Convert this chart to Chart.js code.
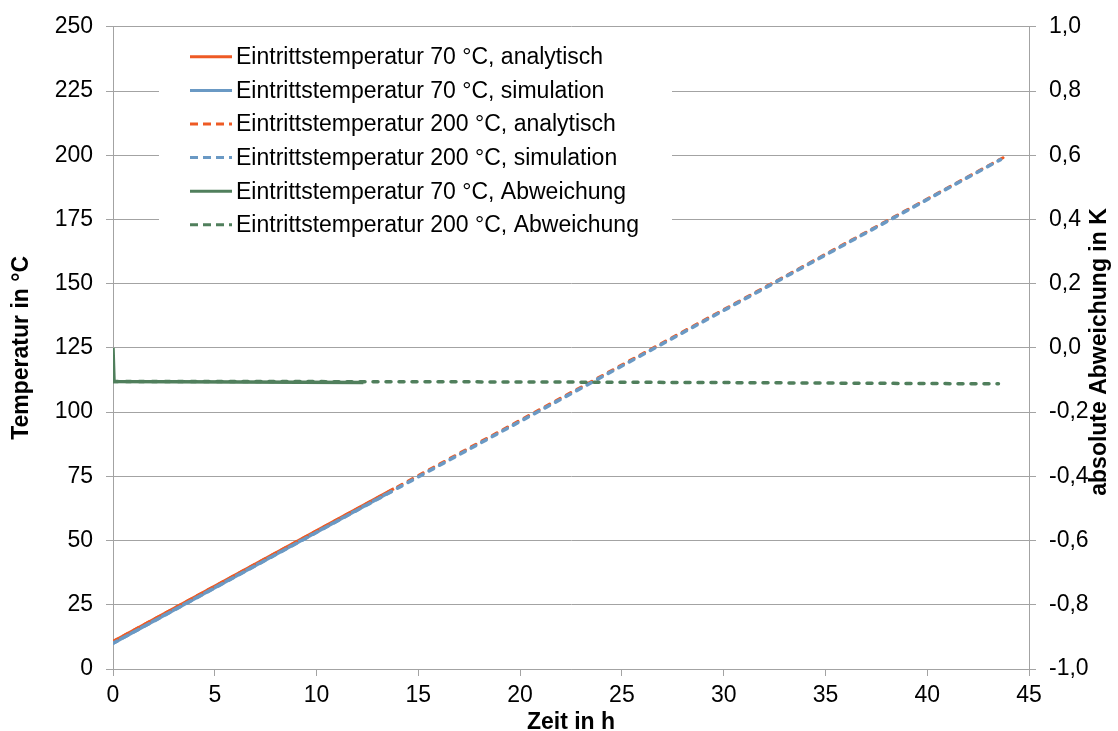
<!DOCTYPE html>
<html>
<head>
<meta charset="utf-8">
<script src="https://cdn.jsdelivr.net/npm/chart.js@4.4.1/dist/chart.umd.min.js"></script>
<style>
    html, body { margin: 0; padding: 0; background: #fff; }
    #wrap { width: 1118px; height: 731px; position: relative; }
</style>
</head>
<body>
<div id="wrap"><canvas id="chart"></canvas></div>
<script>
// values
const labels = [
    "Eintrittstemperatur 70 °C, analytisch",
    "Eintrittstemperatur 70 °C, simulation",
    "Eintrittstemperatur 200 °C, analytisch",
    "Eintrittstemperatur 200 °C, simulation",
    "Eintrittstemperatur 70 °C, Abweichung",
    "Eintrittstemperatur 200 °C, Abweichung"
];
const timeAnalytisch70 = [0, 13.8];
const analytisch70 = [10.7, 70.2];
const timeSimulation70 = [0, 13.7];
const simulation70 = [10, 69.3];
const timeAnalytisch200 = [0, 43.9];
const analytisch200 = [10.7, 199.8];
const timeSimulation200 = [0, 43.6];
const simulation200 = [10, 198.3];
const timeAbweichung70 = [0, 0.05, 12.3];
const abweichung70 = [0.0, -0.105, -0.108];
const timeAbweichung200 = [0, 10, 20, 30, 43.5];
const abweichung200 = [-0.105, -0.105, -0.106, -0.108, -0.112];

const xTicks = { min: 0, max: 45, step: 5 };
const tempTicks = { min: 0, max: 250, step: 25 };
const devTicks = { min: -1, max: 1, step: 0.2 };

const orange = "#EE5A24";
const blue = "#6A99C4";
const green = "#507F5C";
const gridColor = "#A3A3A3";
const font = "'Liberation Sans', Arial, sans-serif";
const fontSize = 23;

function points(xs, ys) {
    return xs.map((x, i) => ({ x, y: ys[i] }));
}

const datasets = [
    { data: points(timeAnalytisch70, analytisch70), borderColor: orange, borderWidth: 3, yAxisID: "y" },
    { data: points(timeSimulation70, simulation70), borderColor: blue, borderWidth: 3.5, yAxisID: "y" },
    { data: points(timeAnalytisch200, analytisch200), borderColor: orange, borderWidth: 3, borderDash: [5, 7], yAxisID: "y" },
    { data: points(timeSimulation200, simulation200), borderColor: blue, borderWidth: 3.5, borderDash: [5, 7], yAxisID: "y" },
    { data: points(timeAbweichung70, abweichung70), borderColor: green, borderWidth: 3.5, yAxisID: "y1" },
    { data: points(timeAbweichung200, abweichung200), borderColor: green, borderWidth: 3.5, borderDash: [5, 8], yAxisID: "y1" }
].map((ds, i) => ({
    ...ds,
    label: labels[i],
    showLine: true,
    fill: false,
    pointRadius: 0,
    borderCapStyle: ds.borderDash ? "round" : "butt",
    order: 10 - i
}));

// legend drawn inside the plot area on a white box
const legendBox = {
    id: "legendBox",
    beforeDatasetsDraw(chart) {
        const { ctx, chartArea } = chart;
        const left = chartArea.left + 46;
        const top = chartArea.top + 8;
        ctx.save();
        ctx.fillStyle = "#fff";
        ctx.fillRect(left, top, 513, 214);
        ctx.font = fontSize + "px " + font;
        ctx.textBaseline = "middle";
        ctx.fillStyle = "#000";
        chart.data.datasets.forEach((ds, i) => {
            const y = chartArea.top + 30 + i * 33.6;
            ctx.beginPath();
            ctx.strokeStyle = ds.borderColor;
            ctx.lineWidth = 3;
            ctx.setLineDash(ds.borderDash ? [8, 5] : []);
            ctx.moveTo(chartArea.left + 77, y);
            ctx.lineTo(chartArea.left + 119, y);
            ctx.stroke();
            ctx.fillText(ds.label, chartArea.left + 123, y + 1);
        });
        ctx.restore();
    },
    afterDraw(chart) {
        // right axis title reads bottom to top like the left one
        const { ctx } = chart;
        ctx.save();
        ctx.translate(1100, 352);
        ctx.rotate(-Math.PI / 2);
        ctx.font = "bold " + fontSize + "px " + font;
        ctx.textAlign = "center";
        ctx.textBaseline = "middle";
        ctx.fillStyle = "#000";
        ctx.fillText("absolute Abweichung in K", 0, 0);
        ctx.restore();
    }
};

new Chart(document.getElementById("chart"), {
    type: "scatter",
    data: { datasets },
    plugins: [legendBox],
    options: {
        responsive: true,
        maintainAspectRatio: false,
        animation: false,
        layout: { padding: { top: 23, left: 0, right: 0, bottom: 0 } },
        plugins: { legend: { display: false }, tooltip: { enabled: false } },
        scales: {
            x: {
                type: "linear",
                min: xTicks.min,
                max: xTicks.max,
                ticks: { stepSize: xTicks.step, color: "#000", font: { family: font, size: fontSize }, padding: 6 },
                grid: { drawOnChartArea: false, tickLength: 7, color: gridColor },
                border: { color: gridColor },
                title: { display: true, text: "Zeit in h", color: "#000", font: { family: font, size: fontSize, weight: "bold" }, padding: { top: 0, bottom: -5 } },
                afterFit(scale) { scale.height = 62; }
            },
            y: {
                position: "left",
                min: tempTicks.min,
                max: tempTicks.max,
                ticks: { stepSize: tempTicks.step, color: "#000", font: { family: font, size: fontSize }, padding: 13 },
                grid: { color: gridColor, tickLength: 7 },
                border: { color: gridColor },
                title: { display: true, text: "Temperatur in °C", color: "#000", font: { family: font, size: fontSize, weight: "bold" }, padding: { top: 8, bottom: 0 } },
                afterFit(scale) { scale.width = 113; }
            },
            y1: {
                position: "right",
                min: devTicks.min,
                max: devTicks.max,
                ticks: {
                    stepSize: devTicks.step,
                    color: "#000",
                    font: { family: font, size: fontSize },
                    padding: 13,
                    callback: v => (Math.abs(v) < 1e-9 ? 0 : v).toFixed(1).replace(".", ",")
                },
                grid: { drawOnChartArea: false, color: gridColor, tickLength: 7 },
                border: { color: gridColor },
                afterFit(scale) { scale.width = 89; }
            }
        }
    }
});
</script>
</body>
</html>
